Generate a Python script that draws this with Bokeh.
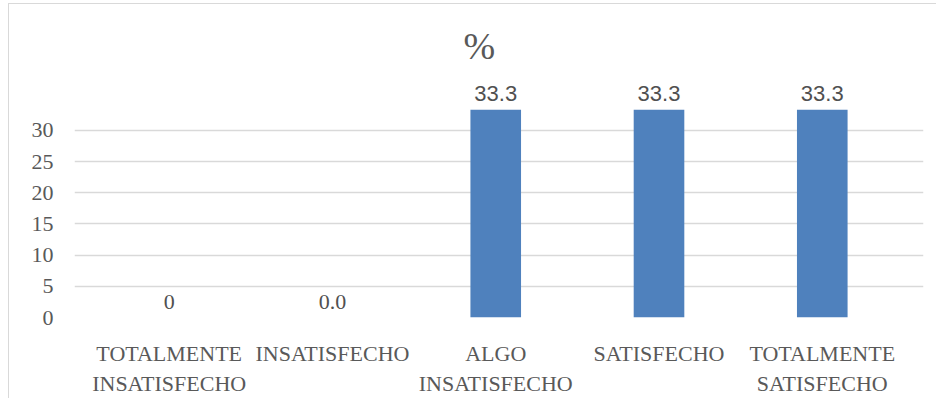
from bokeh.plotting import figure
from bokeh.models import ColumnDataSource, FixedTicker, Title
from bokeh.embed import file_html
from bokeh.resources import INLINE

categories = ["TOTALMENTE\nINSATISFECHO", "INSATISFECHO", "ALGO\nINSATISFECHO",
              "SATISFECHO", "TOTALMENTE\nSATISFECHO"]
values = [0, 0, 33.3, 33.3, 33.3]
value_labels = ["0", "0.0", "33.3", "33.3", "33.3"]
y_ticks = [0, 5, 10, 15, 20, 25, 30]
title_text = "%"

xs = list(range(len(categories)))
label_fonts = ["Liberation Serif", "Liberation Serif", "Liberation Sans", "Liberation Sans", "Liberation Sans"]
src = ColumnDataSource(dict(x=xs, top=values, label=value_labels, font=label_fonts))

p = figure(width=936, height=398, output_backend="svg", toolbar_location=None,
           x_range=(-0.58, 4.62), y_range=(0, 39.6),
           min_border_left=74, min_border_right=13, min_border_top=70, min_border_bottom=77)
p.outline_line_color = None
p.background_fill_color = "white"
p.border_fill_color = None

p.vbar(x="x", top="top", width=0.31, source=src, fill_color="#4f81bd", line_color=None)
p.text(x="x", y="top", text="label", source=src, text_align="center", text_baseline="alphabetic",
       y_offset=-16, text_font="font", text_font_size="22px", text_color="#505050")

t = Title(text=title_text, align="left", offset=389, text_font="Liberation Serif",
          text_font_size="38px", text_font_style="normal", text_color="#595959", standoff=7)
p.add_layout(t, "above")

p.xaxis.ticker = FixedTicker(ticks=xs)
p.xaxis.major_label_overrides = {i: c for i, c in zip(xs, categories)}
p.xaxis.axis_line_color = None
p.xaxis.major_tick_line_color = None
p.xaxis.minor_tick_line_color = None
p.xaxis.major_label_text_font = "Liberation Serif"
p.xaxis.major_label_text_font_size = "22px"
p.xaxis.major_label_text_color = "#595959"
p.xaxis.major_label_standoff = 17
p.xgrid.grid_line_color = None

p.yaxis.ticker = FixedTicker(ticks=y_ticks)
p.yaxis.axis_line_color = None
p.yaxis.major_tick_line_color = None
p.yaxis.minor_tick_line_color = None
p.yaxis.major_label_text_font = "Liberation Serif"
p.yaxis.major_label_text_font_size = "22px"
p.yaxis.major_label_text_color = "#595959"
p.yaxis.major_label_standoff = 15
p.ygrid.ticker = FixedTicker(ticks=y_ticks)
p.ygrid.grid_line_color = "#d9d9d9"
p.ygrid.grid_line_width = 1.5

p.styles = {"background-color": "white",
            "box-shadow": "inset 8px 3px 0 0 white, inset 9px 4px 0 0 #d9d9d9"}

open("out.html", "w").write(file_html(p, INLINE))
